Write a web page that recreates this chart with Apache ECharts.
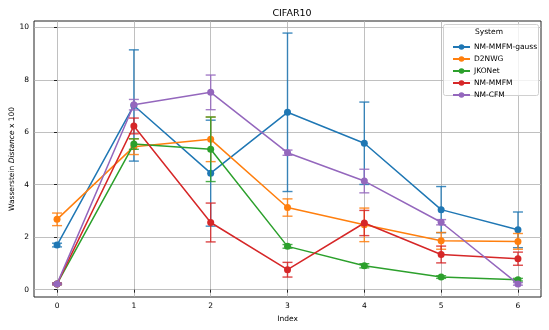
<!DOCTYPE html>
<html lang="en">
<head>
    <meta charset="UTF-8">
    <title>CIFAR10</title>
    <script src="https://cdn.jsdelivr.net/npm/echarts@6.0.0/dist/echarts.min.js"></script>
    <style>
        html, body { margin: 0; padding: 0; background: #fff; }
        #chart { width: 549px; height: 330px; }
    </style>
</head>
<body>
    <div id="chart"></div>
    <script>
        // data
        const indices = [0, 1, 2, 3, 4, 5, 6];
        const systems = ['NM-MMFM-gauss', 'D2NWG', 'JKONet', 'NM-MMFM', 'NM-CFM'];
        const gaussMean = [1.70, 7.02, 4.44, 6.76, 5.58, 3.05, 2.28];
        const gaussErr  = [0.07, 2.12, 2.02, 3.02, 1.57, 0.88, 0.68];
        const d2nwgMean = [2.68, 5.45, 5.73, 3.13, 2.47, 1.86, 1.84];
        const d2nwgErr  = [0.24, 0.30, 0.85, 0.33, 0.64, 0.32, 0.30];
        const jkoMean   = [0.22, 5.55, 5.35, 1.65, 0.91, 0.48, 0.38];
        const jkoErr    = [0.03, 0.20, 1.23, 0.07, 0.08, 0.05, 0.05];
        const mmfmMean  = [0.22, 6.24, 2.56, 0.76, 2.54, 1.34, 1.18];
        const mmfmErr   = [0.03, 0.30, 0.74, 0.28, 0.48, 0.32, 0.25];
        const cfmMean   = [0.22, 7.05, 7.52, 5.22, 4.14, 2.57, 0.22];
        const cfmErr    = [0.03, 0.20, 0.66, 0.10, 0.45, 0.10, 0.05];
        const yTicks = [0, 2, 4, 6, 8, 10];

        const means = [gaussMean, d2nwgMean, jkoMean, mmfmMean, cfmMean];
        const errs = [gaussErr, d2nwgErr, jkoErr, mmfmErr, cfmErr];
        const colors = ['#1f77b4', '#ff7f0e', '#2ca02c', '#d62728', '#9467bd'];

        const chart = echarts.init(document.getElementById('chart'));
        const font = 'DejaVu Sans';

        // error bar drawing
        function errorBar(color) {
            return function (params, api) {
                const x = api.value(0);
                const lo = api.coord([x, api.value(1)]);
                const hi = api.coord([x, api.value(2)]);
                const half = 5;
                const style = { stroke: color, lineWidth: 1.4, opacity: 0.85 };
                return {
                    type: 'group',
                    children: [
                        { type: 'line', shape: { x1: lo[0], y1: lo[1], x2: hi[0], y2: hi[1] }, style: style },
                        { type: 'line', shape: { x1: lo[0] - half, y1: lo[1], x2: lo[0] + half, y2: lo[1] }, style: style },
                        { type: 'line', shape: { x1: hi[0] - half, y1: hi[1], x2: hi[0] + half, y2: hi[1] }, style: style }
                    ]
                };
            };
        }

        const series = [];
        systems.forEach(function (name, k) {
            series.push({
                name: name + ' err',
                type: 'custom',
                renderItem: errorBar(colors[k]),
                data: indices.map(i => [i, means[k][i] - errs[k][i], means[k][i] + errs[k][i]]),
                itemStyle: { color: colors[k] },
                z: 2 + k * 2,
                silent: true
            });
            series.push({
                name: name,
                type: 'line',
                data: indices.map(i => [i, means[k][i]]),
                itemStyle: { color: colors[k] },
                lineStyle: { width: 1.5, color: colors[k] },
                symbol: 'circle',
                symbolSize: 7,
                z: 3 + k * 2
            });
        });

        chart.setOption({
            animation: false,
            title: {
                text: 'CIFAR10',
                left: 287, top: 4, textAlign: 'center',
                textStyle: { fontFamily: font, fontSize: 9.5, fontWeight: 'normal', color: '#000' }
            },
            graphic: [{
                type: 'text', left: 475, top: 28,
                style: { text: 'System', fontFamily: font, fontSize: 7.5, fill: '#000' },
                z: 100
            }, {
                type: 'rect', left: 443, top: 24, z: 90,
                shape: { width: 95, height: 71, r: 2 },
                style: { fill: 'rgba(255,255,255,0.8)', stroke: '#d0d0d0', lineWidth: 1 }
            }],
            legend: {
                data: systems,
                orient: 'vertical',
                left: 447, top: 38,
                itemWidth: 17, itemHeight: 7, itemGap: 4,
                textStyle: { fontFamily: font, fontSize: 7.5, color: '#000', padding: [0, 0, 0, -1] },
                z: 100
            },
            grid: {
                left: 34, right: 8, top: 21, bottom: 33,
                outerBoundsMode: 'none',
                containLabel: false,
                show: true, borderColor: '#222', borderWidth: 1
            },
            xAxis: {
                type: 'value', min: -0.3, max: 6.3,
                name: 'Index', nameLocation: 'middle', nameGap: 17,
                nameTextStyle: { fontFamily: font, fontSize: 7.5, color: '#000' },
                axisLine: { show: false },
                axisTick: { show: true, customValues: indices, length: 3, lineStyle: { color: '#222' } },
                axisLabel: { customValues: indices, fontFamily: font, fontSize: 7.5, color: '#000', margin: 5 },
                splitLine: { show: true, lineStyle: { color: '#b0b0b0', width: 0.8 } }
            },
            yAxis: {
                type: 'value', min: -0.28, max: 10.24,
                name: 'Wasserstein {i|Distance} x 100', nameLocation: 'middle', nameGap: 18,
                nameMoveOverlap: false,
                nameTextStyle: { fontFamily: font, fontSize: 7.5, color: '#000',
                    rich: { i: { fontStyle: 'italic', fontFamily: font, fontSize: 7.5 } } },
                axisLine: { show: false },
                axisTick: { show: true, customValues: yTicks, length: 3, lineStyle: { color: '#222' } },
                axisLabel: { customValues: yTicks, fontFamily: font, fontSize: 7.5, color: '#000', margin: 5 },
                splitLine: { show: true, lineStyle: { color: '#b0b0b0', width: 0.8 } }
            },
            series: series
        });
    </script>
</body>
</html>
